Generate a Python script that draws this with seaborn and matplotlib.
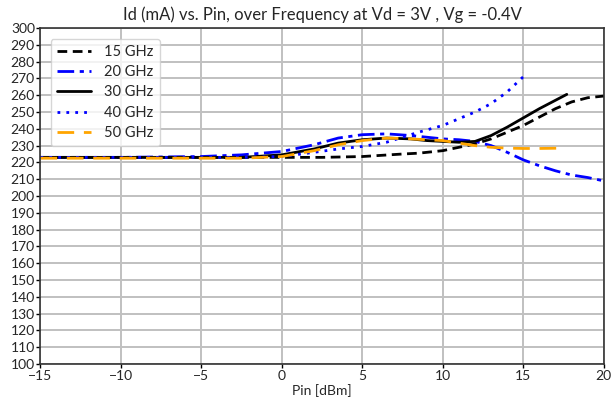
import numpy as np
import pandas as pd
import seaborn as sns
import matplotlib.pyplot as plt

sns.set_theme(style="whitegrid")
plt.rcParams["font.family"] = ["Lato", "DejaVu Sans"]

# Data (Pin in dBm, Id in mA)
pin_15 = [-15, -10, -5, 0, 2.5, 5, 7.5, 8.5, 10, 11, 12, 13, 14, 15, 16, 17, 18, 19, 20]
id_15 = [223, 223, 223, 223, 223, 223.5, 225, 225.5, 227, 229, 231, 234, 238, 242, 247, 252, 256, 258.5, 259.5]

pin_20 = [-15, -10, -5, -2.5, 0, 2, 3.5, 5, 6.5, 8, 10, 11, 12, 13, 14, 15, 16, 17, 18, 19, 20]
id_20 = [223, 223, 223.5, 224.5, 226.5, 230.5, 234.5, 236.5, 237, 236, 234, 233.5, 232.5, 230, 226, 221.5, 218, 215, 212.5, 211, 209]

pin_30 = [-15, -10, -5, -2.5, 0, 2, 3.5, 5, 6.5, 8, 9, 10, 11, 12, 13, 14, 15, 16, 17, 17.7]
id_30 = [223, 223, 223, 223, 224.5, 228, 231.5, 233.5, 234.5, 234, 233, 232.5, 232, 232.5, 236, 241, 246.5, 252, 257, 260.5]

pin_40 = [-15, -10, -5, -2.5, 0, 2, 3.5, 5, 6.5, 7.5, 8.5, 10, 11, 12, 13, 14, 15]
id_40 = [223, 223, 223, 223, 223.5, 226, 228, 229.5, 232, 235, 238, 242, 246, 250, 255, 262, 271]

pin_50 = [-15, -10, -5, -2.5, 0, 2, 3.5, 5, 6.5, 8, 10, 11, 12, 13, 14, 15, 16, 17.5]
id_50 = [222.5, 222.5, 222.5, 222.5, 223.5, 227, 230.5, 233, 234.5, 234, 233, 231.5, 230, 229, 228.5, 228.3, 228.3, 228.5]

series = [
    ("15 GHz", pin_15, id_15, "black", (0, (3.5, 2))),
    ("20 GHz", pin_20, id_20, "blue", (0, (6, 2, 1.5, 2))),
    ("30 GHz", pin_30, id_30, "black", "-"),
    ("40 GHz", pin_40, id_40, "blue", (0, (1, 2.2))),
    ("50 GHz", pin_50, id_50, "orange", (0, (6, 3.5))),
]

fig = plt.figure(figsize=(6.13, 4.12), dpi=100)
ax = fig.add_axes([0.066, 0.1165, 0.919, 0.8155])

for name, x, y, color, ls in series:
    df = pd.DataFrame({"Pin": x, "Id": y})
    sns.lineplot(data=df, x="Pin", y="Id", ax=ax, color=color, linestyle=ls,
                 linewidth=2, label=name, sort=False, estimator=None)

ax.set_xlim(-15, 20)
ax.set_ylim(100, 300)
ax.set_xticks(np.arange(-15, 21, 5))
ax.set_yticks(np.arange(100, 301, 10))
ax.set_xlabel("Pin [dBm]", fontsize=10, labelpad=2)
ax.set_ylabel("")
ax.set_title("Id (mA) vs. Pin, over Frequency at Vd = 3V , Vg = -0.4V", fontsize=12, pad=6)
ax.tick_params(axis="both", labelsize=10, length=3, width=1, color="black", pad=1, direction="out")
ax.tick_params(axis="x", bottom=True)
ax.tick_params(axis="y", left=True)
ax.grid(True, color="#c0c0c0", linewidth=1.4)
for s in ax.spines.values():
    s.set_color("#333333")
    s.set_linewidth(1.2)

leg = ax.legend(loc="upper left", fontsize=10.5, handlelength=2.3, frameon=True,
                borderpad=0.45, labelspacing=0.42, handletextpad=0.9,
                bbox_to_anchor=(0.005, 0.99))
leg.get_frame().set_edgecolor("#cccccc")
leg.get_frame().set_facecolor("white")

fig.savefig("out.png", dpi=100)
